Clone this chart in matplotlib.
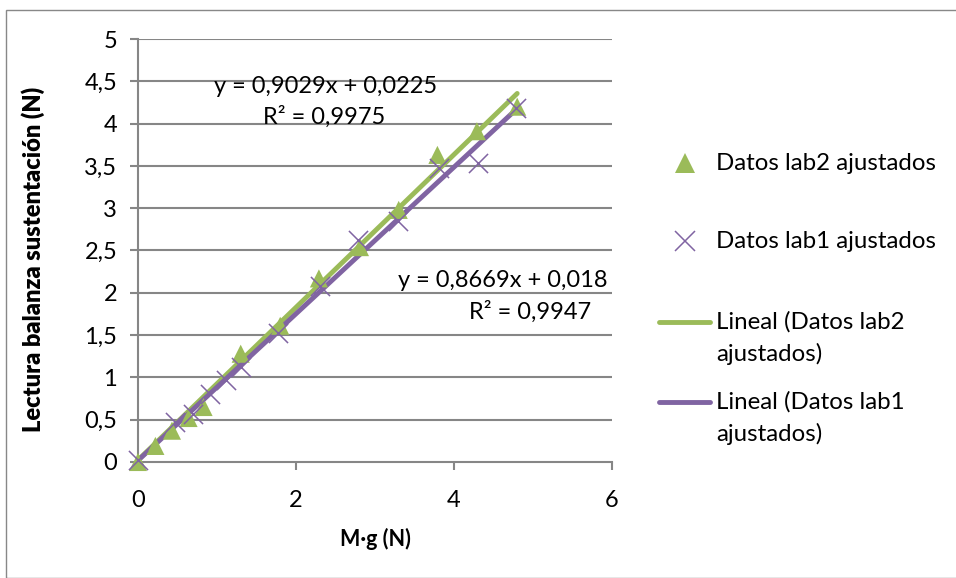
import matplotlib
matplotlib.use("Agg")
import matplotlib.pyplot as plt
from matplotlib.lines import Line2D
from matplotlib.patches import Rectangle
import numpy as np

plt.rcParams['font.family'] = ['Lato', 'DejaVu Sans']

# Data
lab2_x = [0, 0.22, 0.43, 0.64, 0.83, 1.30, 1.80, 2.29, 2.81, 3.30, 3.79, 4.29, 4.80]
lab2_y = [0, 0.19, 0.37, 0.52, 0.65, 1.28, 1.61, 2.17, 2.54, 2.98, 3.63, 3.91, 4.20]
lab1_x = [0, 0.47, 0.69, 0.91, 1.11, 1.30, 1.77, 2.30, 2.79, 3.29, 3.81, 4.30, 4.78]
lab1_y = [0.02, 0.47, 0.57, 0.80, 0.97, 1.12, 1.53, 2.08, 2.63, 2.85, 3.48, 3.53, 4.18]
fit2 = (0.9029, 0.0225)
fit1 = (0.8669, 0.018)
eq2_text = ["y = 0,9029x + 0,0225", "R² = 0,9975"]
eq1_text = ["y = 0,8669x + 0,018", "R² = 0,9947"]
x_ticks = [0, 2, 4, 6]
y_ticks = [0, 0.5, 1, 1.5, 2, 2.5, 3, 3.5, 4, 4.5, 5]
legend_labels = [["Datos lab2 ajustados"], ["Datos lab1 ajustados"],
                 ["Lineal (Datos lab2", "ajustados)"], ["Lineal (Datos lab1", "ajustados)"]]

green = '#9BBB59'
purple = '#8064A2'
grid = '#868686'

W, H = 956, 578
fig = plt.figure(figsize=(W/100, H/100), dpi=100)
fig.patch.set_facecolor('white')
fig.patches.append(Rectangle((6/W, 0), 1, (H-10)/H, transform=fig.transFigure,
                             fill=False, edgecolor='#888888', lw=1.0))

ax = fig.add_axes([138/W, (H-462)/H, (612-138)/W, (462-39)/H])
ax.set_xlim(0, 6)
ax.set_ylim(0, 5)

for yt in y_ticks[1:]:
    ax.axhline(yt, color=grid, lw=1.5, zorder=0)

xs = np.array([0, max(lab2_x)])
ax.plot(xs, fit2[0]*xs + fit2[1], color=green, lw=3.5, solid_capstyle='round', zorder=2, clip_on=False)
xs1 = np.array([0, max(lab1_x)])
ax.plot(xs1, fit1[0]*xs1 + fit1[1], color=purple, lw=3.5, solid_capstyle='round', zorder=3, clip_on=False)

ax.scatter(lab2_x, lab2_y, marker='^', s=170, color=green, edgecolors='none', zorder=4, clip_on=False)
ax.scatter(lab1_x, lab1_y, marker='x', s=190, color=purple, linewidths=1.1, zorder=5, clip_on=False)

for s in ['top', 'right']:
    ax.spines[s].set_visible(False)
for s in ['left', 'bottom']:
    ax.spines[s].set_color(grid)
    ax.spines[s].set_linewidth(1.5)

ax.set_xticks(x_ticks)
ax.set_xticklabels([str(v) for v in x_ticks])
ax.set_yticks(y_ticks)
ax.set_yticklabels([('%g' % v).replace('.', ',') for v in y_ticks])
ax.tick_params(axis='both', colors=grid, labelcolor='black', labelsize=17,
               length=6, width=1.5, direction='out')
ax.tick_params(axis='x', pad=14)
ax.tick_params(axis='y', pad=9)

ax.set_xlabel("M·g (N)", fontsize=15.5, fontweight='bold')
ax.xaxis.set_label_coords(0.5, -0.157)
ax.set_ylabel("Lectura balanza sustentación (N)", fontsize=17, fontweight='heavy')
ax.yaxis.set_label_coords(-0.196, 0.48)

# Equations
ax.text(2.37, 4.44, eq2_text[0], fontsize=17, ha='center', va='center', zorder=6)
ax.text(2.35, 4.08, eq2_text[1], fontsize=17, ha='center', va='center', zorder=6)
ax.text(4.62, 2.15, eq1_text[0], fontsize=17, ha='center', va='center', zorder=6)
ax.text(4.96, 1.77, eq1_text[1], fontsize=17, ha='center', va='center', zorder=6)

# Manual legend (figure pixel coordinates converted)
def fx(px):
    return px / W

def fy(py):
    return 1 - py / H

fig.add_artist(Line2D([fx(685)], [fy(163)], marker='^', color=green, markersize=14,
                      markeredgewidth=0, ls='none', transform=fig.transFigure))
fig.add_artist(Line2D([fx(685)], [fy(241)], marker='x', color=purple, markersize=14,
                      markeredgewidth=1.1, ls='none', transform=fig.transFigure))
fig.add_artist(Line2D([fx(659), fx(710)], [fy(322), fy(322)], color=green, lw=3.5,
                      solid_capstyle='round', transform=fig.transFigure))
fig.add_artist(Line2D([fx(659), fx(710)], [fy(402), fy(402)], color=purple, lw=3.5,
                      solid_capstyle='round', transform=fig.transFigure))
rows = [[163], [241], [322, 354], [402, 434]]
for lines, ys in zip(legend_labels, rows):
    for t, y in zip(lines, ys):
        fig.text(fx(716), fy(y), t, fontsize=17.3, ha='left', va='center')

fig.savefig("out.png", dpi=100, facecolor='white')
